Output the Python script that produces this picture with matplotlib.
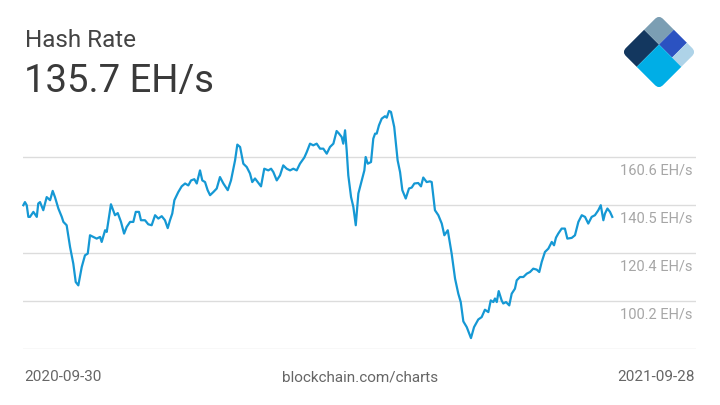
"""
Hash Rate chart (blockchain.com style), 2020-09-30 .. 2021-09-28.
"""
import matplotlib

matplotlib.use("Agg")
import matplotlib.pyplot as plt
from matplotlib.patches import FancyBboxPatch, Rectangle
from matplotlib.transforms import Affine2D

plt.rcParams["font.family"] = ["Roboto", "DejaVu Sans"]

# days since 2020-09-30 and hash rate in EH/s
days = [
    0, 1.0, 2.1, 3.1, 4.1, 6.2, 8.3, 9.2, 10.3, 12.3, 14.4, 16.5, 18.1, 19.5,
    21.6, 23.7, 24.7, 26.7, 28.8, 30.8, 32.3, 33.9, 36.0, 38.0, 39.7, 41.1,
    43.1, 45.2, 47.3, 48.3, 50.4, 51.4, 54.0, 56.5, 58.2, 60.2, 62.1, 63.7,
    65.8, 67.8, 69.3, 71.3, 72.5, 75.0, 77.0, 79.1, 81.2, 83.2, 85.3, 87.3,
    89.0, 90.4, 91.8, 93.1, 95.5, 97.6, 99.7, 101.7, 103.4, 105.4, 106.9,
    108.9, 110.3, 112.0, 113.6, 115.1, 117.1, 119.2, 121.2, 123.3, 126.0,
    128.0, 130.5, 131.9, 133.6, 135.6, 137.7, 139.7, 141.1, 142.8, 144.5,
    146.5, 148.5, 151.0, 152.7, 154.1, 156.2, 158.2, 160.2, 162.3, 164.4,
    166.4, 168.5, 170.5, 173.2, 174.7, 176.7, 178.7, 180.8, 182.9, 184.9,
    187.0, 189.0, 191.1, 193.1, 194.6, 196.2, 197.2, 198.3, 199.3, 200.3,
    202.0, 203.4, 204.9, 206.5, 208.6, 210.2, 211.0, 212.3, 214.3, 215.7,
    216.8, 217.8, 219.2, 220.9, 222.9, 224.0, 225.4, 226.6, 228.6, 230.7,
    232.2, 233.6, 235.7, 237.7, 239.4, 241.0, 243.4, 245.1, 246.5, 248.6,
    250.6, 251.7, 253.7, 255.8, 257.9, 259.5, 261.6, 264.0, 266.1, 268.1,
    269.6, 271.2, 273.3, 275.9, 277.8, 280.4, 282.5, 284.5, 286.6, 288.1,
    289.7, 290.7, 291.8, 293.0, 294.8, 295.8, 297.5, 299.5, 301.0, 303.0,
    304.1, 306.1, 308.2, 310.3, 312.3, 314.3, 316.4, 318.0, 319.5, 321.5,
    323.6, 325.7, 327.1, 328.3, 329.7, 331.8, 333.8, 335.3, 338.0, 340.0,
    342.1, 344.2, 346.2, 348.2, 350.3, 352.3, 354.4, 355.9, 357.5, 358.5,
    360.0, 361.6, 363.0,
]
hash_rate = [
    140.5, 141.8, 140.5, 135.6, 135.6, 137.7, 135.6, 141.2, 141.8, 138.4,
    143.9, 142.6, 146.5, 143.9, 139.1, 135.6, 133.5, 132.1, 123.0, 116.0,
    108.3, 106.9, 114.6, 119.5, 120.2, 127.9, 127.2, 126.5, 127.2, 125.1,
    130.0, 129.3, 140.9, 136.3, 137.2, 133.5, 128.6, 131.4, 133.5, 133.5,
    137.7, 137.7, 134.2, 134.2, 132.5, 132.1, 136.3, 134.9, 135.9, 134.2,
    130.9, 134.2, 137.0, 142.6, 146.0, 148.4, 149.6, 148.8, 150.9, 151.4,
    149.6, 155.1, 150.9, 150.2, 146.8, 144.7, 146.0, 147.5, 152.3, 149.6,
    146.8, 150.9, 159.3, 165.9, 164.9, 157.9, 156.5, 153.8, 150.2, 151.7,
    150.2, 148.4, 155.8, 155.1, 155.8, 154.4, 150.9, 153.0, 157.2, 155.8,
    155.1, 155.8, 155.1, 157.9, 160.5, 162.8, 166.3, 165.6, 166.3, 164.2,
    164.2, 162.1, 164.9, 166.3, 171.6, 170.5, 169.1, 166.3, 171.9, 163.5,
    153.0, 143.9, 139.8, 132.1, 145.4, 150.9, 155.1, 160.7, 157.9, 158.6,
    168.4, 170.5, 170.5, 174.0, 176.8, 177.8, 177.2, 180.0, 179.6, 173.3,
    159.3, 154.4, 146.8, 143.3, 147.5, 147.9, 149.6, 149.8, 148.4, 152.1,
    150.2, 150.5, 150.2, 138.4, 136.3, 132.8, 127.9, 130.0, 120.2, 109.7,
    103.4, 99.9, 91.8, 89.4, 84.8, 89.4, 92.6, 93.6, 96.7, 95.7,
    100.6, 99.9, 101.4, 99.9, 104.5, 100.6, 99.3, 99.9, 98.5, 103.4,
    105.5, 109.0, 110.4, 110.4, 111.8, 112.5, 113.9, 113.5, 112.5, 116.7,
    120.9, 122.3, 125.1, 123.7, 126.9, 128.6, 130.7, 130.7, 126.5, 126.8,
    127.9, 133.5, 136.3, 135.6, 132.8, 135.6, 136.3, 138.4, 140.5, 134.2,
    137.0, 139.1, 137.7, 135.6,
]

tick_values = [80.1, 100.2, 120.4, 140.5, 160.6]
tick_labels = ["", "100.2 EH/s", "120.4 EH/s", "140.5 EH/s", "160.6 EH/s"]
start_label = "2020-09-30"
end_label = "2021-09-28"
current_value = "135.7 EH/s"

W, H = 720, 405
fig = plt.figure(figsize=(W / 100, H / 100), dpi=100, facecolor="white")

# plot area (pixel-based placement)
ax = fig.add_axes([23 / W, (H - 349.3) / H, 673 / W, 249.3 / H])
ax.set_xlim(-0.2, 414.6)
ax.set_ylim(80.1, 184.6)
for s in ax.spines.values():
    s.set_visible(False)
ax.set_xticks([])
ax.set_yticks([])
ax.patch.set_alpha(0)

for v, lab in zip(tick_values, tick_labels):
    ax.axhline(v, color="#dcdcdc", lw=1.0, zorder=1)
    if lab:
        ax.annotate(lab, xy=(0.9945, v), xycoords=("axes fraction", "data"),
                    xytext=(0, -9.5), textcoords="offset points",
                    ha="right", va="center", fontsize=10.5, color="#a6a6a6")

ax.plot(days, hash_rate, color="#1598d4", lw=1.6, zorder=3,
        solid_joinstyle="round", clip_on=False)

# header
fig.text(25 / W, 1 - 46.7 / H, "Hash Rate", fontsize=17.5, color="#444444",
         va="baseline", ha="left")
fig.text(23.5 / W, 1 - 91.7 / H, current_value, fontsize=27.5, color="#3a3a3a",
         va="baseline", ha="left")

# footer
fig.text(24 / W, 1 - 377 / H, start_label, fontsize=11, color="#666666",
         va="center", ha="left")
fig.text(0.5, 1 - 377 / H, "blockchain.com/charts", fontsize=11,
         color="#666666", va="center", ha="center")
fig.text(695 / W, 1 - 377 / H, end_label, fontsize=11, color="#666666",
         va="center", ha="right")

# logo: rounded square rotated 45 deg, split into five blocks
lax = fig.add_axes([619 / W, 1 - 92 / H, 80 / W, 80 / H])
lax.set_xlim(-0.05, 1.4642)
lax.set_ylim(-0.757, 0.757)
lax.set_aspect("equal")
lax.axis("off")
rot = Affine2D().rotate_deg(-45) + lax.transData
clip = FancyBboxPatch((0, 0), 1, 1, boxstyle="round,pad=0,rounding_size=0.12",
                      transform=rot, facecolor="none", edgecolor="none")
lax.add_patch(clip)
blocks = [
    ((0, 0), 0.4, 0.6, "#13375f"),
    ((0, 0.6), 0.4, 0.4, "#7b9eb3"),
    ((0.4, 0.6), 0.35, 0.4, "#2b52c1"),
    ((0.75, 0.6), 0.25, 0.4, "#aed3e8"),
    ((0.4, 0), 0.6, 0.6, "#00aee6"),
]
for xy, w, h, c in blocks:
    r = Rectangle(xy, w, h, transform=rot, facecolor=c, edgecolor="none")
    lax.add_patch(r)
    r.set_clip_path(clip)

fig.savefig("out.png", dpi=100, facecolor="white")
